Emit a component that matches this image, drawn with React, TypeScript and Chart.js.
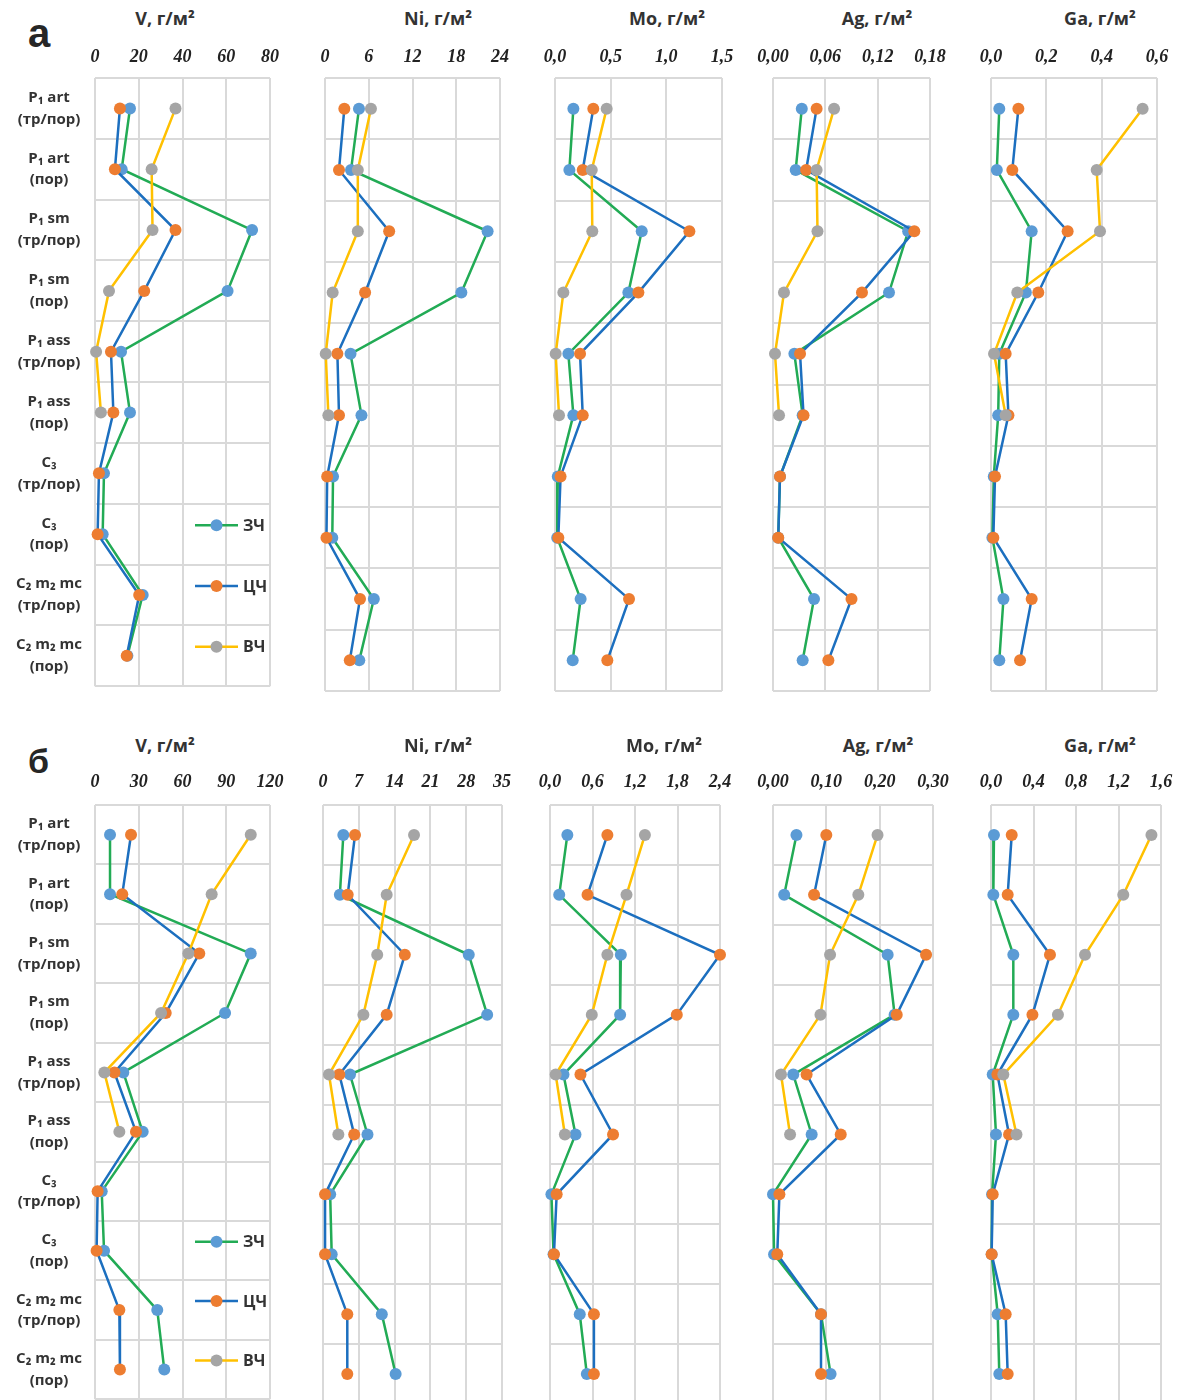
import React, { useEffect, useRef } from "react";
import { Chart, registerables } from "chart.js";

Chart.register(...registerables);

// Stratigraphic layers (category axis, top to bottom)
const LAYERS: string[][] = [
  ["P₁ art", "(тр/пор)"],
  ["P₁ art", "(пор)"],
  ["P₁ sm", "(тр/пор)"],
  ["P₁ sm", "(пор)"],
  ["P₁ ass", "(тр/пор)"],
  ["P₁ ass", "(пор)"],
  ["C₃", "(тр/пор)"],
  ["C₃", "(пор)"],
  ["C₂ m₂ mc", "(тр/пор)"],
  ["C₂ m₂ mc", "(пор)"],
];

// Series: западная, центральная, восточная части
const SERIES = ["ЗЧ", "ЦЧ", "ВЧ"];
const LINE_COLORS = ["#22ab55", "#1c6fbf", "#ffc000"];
const MARKER_COLORS = ["#5b9bd5", "#ed7d31", "#a5a5a5"];

const ELEMENTS = ["V", "Ni", "Mo", "Ag", "Ga"];

// ---- Panel а ----
const V_A_ZCH = [16, 12.2, 71.8, 60.6, 11.9, 16, 4.1, 3.5, 21.8, 14.8];
const V_A_TSCH = [11.4, 9.1, 36.8, 22.5, 7.3, 8.4, 1.8, 1.2, 20.2, 14.5];
const V_A_VCH = [36.8, 25.9, 26.3, 6.4, 0.5, 2.7, null, null, null, null];
const V_A_TICKS = [0, 20, 40, 60, 80];

const NI_A_ZCH = [4.66, 3.57, 22.3, 18.7, 3.5, 5.0, 1.1, 1.0, 6.7, 4.7];
const NI_A_TSCH = [2.65, 1.92, 8.8, 5.5, 1.7, 1.92, 0.3, 0.2, 4.8, 3.4];
const NI_A_VCH = [6.3, 4.5, 4.5, 1.05, 0.1, 0.46, null, null, null, null];
const NI_A_TICKS = [0, 6, 12, 18, 24];

const MO_A_ZCH = [0.165, 0.129, 0.779, 0.659, 0.12, 0.165, 0.025, 0.02, 0.23, 0.159];
const MO_A_TSCH = [0.344, 0.249, 1.207, 0.749, 0.225, 0.249, 0.05, 0.03, 0.665, 0.47];
const MO_A_VCH = [0.464, 0.33, 0.335, 0.075, 0.006, 0.036, null, null, null, null];
const MO_A_TICKS = [0, 0.5, 1.0, 1.5];

const AG_A_ZCH = [0.033, 0.026, 0.155, 0.133, 0.0245, 0.034, 0.008, 0.006, 0.047, 0.034];
const AG_A_TSCH = [0.05, 0.038, 0.162, 0.102, 0.031, 0.035, 0.008, 0.006, 0.09, 0.0635];
const AG_A_VCH = [0.07, 0.05, 0.051, 0.0126, 0.0023, 0.0069, null, null, null, null];
const AG_A_TICKS = [0, 0.06, 0.12, 0.18];

const GA_A_ZCH = [0.03, 0.021, 0.147, 0.126, 0.03, 0.026, 0.01, 0.005, 0.045, 0.03];
const GA_A_TSCH = [0.099, 0.077, 0.277, 0.171, 0.053, 0.063, 0.0145, 0.0085, 0.147, 0.105];
const GA_A_VCH = [0.548, 0.382, 0.394, 0.095, 0.011, 0.053, null, null, null, null];
const GA_A_TICKS = [0, 0.2, 0.4, 0.6];

// ---- Panel б ----
const V_B_ZCH = [10.3, 10.3, 106.8, 89.2, 19.4, 32.7, 4.6, 6.2, 42.7, 47.5];
const V_B_TSCH = [24.7, 18.7, 71.5, 48.5, 13.3, 28.1, 1.8, 1.1, 16.7, 17.1];
const V_B_VCH = [106.8, 80, 64, 45.3, 6.4, 16.7, null, null, null, null];
const V_B_TICKS = [0, 30, 60, 90, 120];

const NI_B_ZCH = [3.97, 3.3, 28.5, 32.1, 5.28, 8.7, 1.4, 1.7, 11.5, 14.2];
const NI_B_TSCH = [6.26, 4.83, 16.0, 12.45, 3.19, 6.1, 0.4, 0.4, 4.75, 4.75];
const NI_B_VCH = [17.8, 12.45, 10.6, 7.9, 1.17, 3.0, null, null, null, null];
const NI_B_TICKS = [0, 7, 14, 21, 28, 35];

const MO_B_ZCH = [0.245, 0.13, 1.0, 0.99, 0.19, 0.36, 0.02, 0.05, 0.42, 0.52];
const MO_B_TSCH = [0.81, 0.53, 2.4, 1.79, 0.43, 0.89, 0.094, 0.056, 0.62, 0.62];
const MO_B_VCH = [1.34, 1.08, 0.81, 0.59, 0.08, 0.21, null, null, null, null];
const MO_B_TICKS = [0, 0.6, 1.2, 1.8, 2.4];

const AG_B_ZCH = [0.044, 0.021, 0.215, 0.228, 0.038, 0.0725, 0.0, 0.002, 0.09, 0.108];
const AG_B_TSCH = [0.1, 0.077, 0.287, 0.232, 0.063, 0.127, 0.012, 0.008, 0.09, 0.09];
const AG_B_VCH = [0.196, 0.16, 0.107, 0.089, 0.015, 0.032, null, null, null, null];
const AG_B_TICKS = [0, 0.1, 0.2, 0.3];

const GA_B_ZCH = [0.028, 0.022, 0.21, 0.21, 0.016, 0.047, 0.01, 0.006, 0.063, 0.078];
const GA_B_TSCH = [0.195, 0.157, 0.555, 0.39, 0.06, 0.17, 0.016, 0.006, 0.138, 0.157];
const GA_B_VCH = [1.51, 1.245, 0.885, 0.63, 0.116, 0.24, null, null, null, null];
const GA_B_TICKS = [0, 0.4, 0.8, 1.2, 1.6];

type Values = (number | null)[];

type ChartSpec = {
  element: string;
  left: number;
  right: number;
  titleX: number;
  ticks: number[];
  decimals: number;
  series: Values[];
};

type Panel = {
  letter: string;
  letterTop: number;
  letterSize: number;
  titleY: number;
  plotTop: number;
  plotBottom: number;
  tickPad: number;
  charts: ChartSpec[];
};

const GRID = "#d9d9d9";
const TEXT = "#333333";
const AXIS_H = 45;
const SIDE = 30;
const BOTTOM = 30;

const PANELS: Panel[] = [
  {
    letter: "а",
    letterTop: 13,
    letterSize: 40,
    titleY: 18,
    plotTop: 78,
    plotBottom: 691,
    tickPad: 10,
    charts: [
      { element: ELEMENTS[0], left: 95, right: 270, titleX: 165, ticks: V_A_TICKS, decimals: 0, series: [V_A_ZCH, V_A_TSCH, V_A_VCH] },
      { element: ELEMENTS[1], left: 325, right: 500, titleX: 438, ticks: NI_A_TICKS, decimals: 0, series: [NI_A_ZCH, NI_A_TSCH, NI_A_VCH] },
      { element: ELEMENTS[2], left: 555, right: 722, titleX: 667, ticks: MO_A_TICKS, decimals: 1, series: [MO_A_ZCH, MO_A_TSCH, MO_A_VCH] },
      { element: ELEMENTS[3], left: 773, right: 930, titleX: 877, ticks: AG_A_TICKS, decimals: 2, series: [AG_A_ZCH, AG_A_TSCH, AG_A_VCH] },
      { element: ELEMENTS[4], left: 991, right: 1157, titleX: 1100, ticks: GA_A_TICKS, decimals: 1, series: [GA_A_ZCH, GA_A_TSCH, GA_A_VCH] },
    ],
  },
  {
    letter: "б",
    letterTop: 744,
    letterSize: 34,
    titleY: 745,
    plotTop: 805,
    plotBottom: 1404,
    tickPad: 12,
    charts: [
      { element: ELEMENTS[0], left: 95, right: 270, titleX: 165, ticks: V_B_TICKS, decimals: 0, series: [V_B_ZCH, V_B_TSCH, V_B_VCH] },
      { element: ELEMENTS[1], left: 323, right: 502, titleX: 438, ticks: NI_B_TICKS, decimals: 0, series: [NI_B_ZCH, NI_B_TSCH, NI_B_VCH] },
      { element: ELEMENTS[2], left: 550, right: 720, titleX: 664, ticks: MO_B_TICKS, decimals: 1, series: [MO_B_ZCH, MO_B_TSCH, MO_B_VCH] },
      { element: ELEMENTS[3], left: 773, right: 933, titleX: 878, ticks: AG_B_TICKS, decimals: 2, series: [AG_B_ZCH, AG_B_TSCH, AG_B_VCH] },
      { element: ELEMENTS[4], left: 991, right: 1161, titleX: 1100, ticks: GA_B_TICKS, decimals: 1, series: [GA_B_ZCH, GA_B_TSCH, GA_B_VCH] },
    ],
  },
];

// Key drawn inside the lower rows of the first plot of each panel
const seriesKey = {
  id: "seriesKey",
  afterDatasetsDraw(chart: any) {
    const { ctx, chartArea, scales } = chart;
    SERIES.forEach((name, i) => {
      const cy = scales.y.getPixelForValue(7 + i) - 9;
      const x0 = chartArea.left + 100;
      ctx.save();
      ctx.strokeStyle = LINE_COLORS[i];
      ctx.lineWidth = 2.5;
      ctx.beginPath();
      ctx.moveTo(x0, cy);
      ctx.lineTo(x0 + 43, cy);
      ctx.stroke();
      ctx.fillStyle = MARKER_COLORS[i];
      ctx.beginPath();
      ctx.arc(x0 + 21.5, cy, 6, 0, Math.PI * 2);
      ctx.fill();
      ctx.fillStyle = TEXT;
      ctx.font = 'bold 16px "Open Sans", "DejaVu Sans", sans-serif';
      ctx.textBaseline = "middle";
      ctx.textAlign = "left";
      ctx.fillText(name, x0 + 48, cy + 1);
      ctx.restore();
    });
  },
};

function SubChart({ spec, panel, first }: { spec: ChartSpec; panel: Panel; first: boolean }) {
  const ref = useRef<HTMLCanvasElement>(null);
  const canvasLeft = first ? 0 : spec.left - SIDE;
  const canvasTop = panel.plotTop - AXIS_H;
  const width = spec.right - canvasLeft + SIDE;
  const height = panel.plotBottom - panel.plotTop + AXIS_H + BOTTOM;

  useEffect(() => {
    if (!ref.current) return;
    const ticks = spec.ticks;
    const chart = new Chart(ref.current, {
      type: "line",
      data: {
        labels: LAYERS as any,
        datasets: SERIES.map((name, i) => ({
          label: name,
          data: spec.series[i] as any,
          borderColor: LINE_COLORS[i],
          backgroundColor: MARKER_COLORS[i],
          pointBackgroundColor: MARKER_COLORS[i],
          pointBorderColor: MARKER_COLORS[i],
          pointBorderWidth: 0,
          pointRadius: 6,
          borderWidth: 2.5,
          tension: 0,
          clip: false as any,
          spanGaps: false,
          order: SERIES.length - i,
        })),
      },
      options: {
        indexAxis: "y",
        responsive: false,
        maintainAspectRatio: false,
        animation: false,
        devicePixelRatio: 1,
        events: [],
        layout: { padding: { left: first ? 0 : SIDE, right: SIDE, top: 0, bottom: BOTTOM } },
        scales: {
          x: {
            type: "linear",
            position: "top",
            min: ticks[0],
            max: ticks[ticks.length - 1],
            afterBuildTicks: (s: any) => {
              s.ticks = ticks.map((v) => ({ value: v }));
            },
            afterFit: (s: any) => {
              s.height = AXIS_H;
            },
            grid: { color: GRID, lineWidth: 2, drawTicks: false },
            border: { display: false },
            ticks: {
              padding: panel.tickPad,
              autoSkip: false,
              maxRotation: 0,
              color: "#222222",
              font: { family: '"Liberation Serif", "Times New Roman", serif', size: 18, weight: "bold", style: "italic" },
              callback: (v: any) => Number(v).toFixed(spec.decimals).replace(".", ","),
            },
          },
          y: {
            type: "category",
            offset: true,
            afterFit: (s: any) => {
              s.width = first ? spec.left : 0;
            },
            grid: { offset: true, color: GRID, lineWidth: 2, drawTicks: false },
            border: { display: false },
            ticks: {
              display: first,
              autoSkip: false,
              crossAlign: "center",
              padding: 13,
              color: TEXT,
              font: { family: '"Open Sans", "DejaVu Sans", sans-serif', size: 15, weight: "bold", lineHeight: 1.45 },
            },
          },
        },
        plugins: {
          legend: { display: false },
          tooltip: { enabled: false },
          title: { display: false },
        },
      } as any,
      plugins: first ? [seriesKey] : [],
    });
    return () => chart.destroy();
  }, [spec, panel, first]);

  return (
    <canvas
      ref={ref}
      width={width}
      height={height}
      style={{ position: "absolute", left: canvasLeft, top: canvasTop, width, height }}
    />
  );
}

export default function App() {
  return (
    <div
      style={{
        position: "absolute",
        left: 0,
        top: 0,
        width: 1189,
        height: 1400,
        overflow: "hidden",
        background: "#ffffff",
      }}
    >
      {PANELS.map((panel) => (
        <React.Fragment key={panel.letter}>
          <div
            style={{
              position: "absolute",
              left: 28,
              top: panel.letterTop,
              fontFamily: '"Liberation Sans", Arial, sans-serif',
              fontWeight: "bold",
              fontSize: panel.letterSize,
              lineHeight: `${panel.letterSize}px`,
              color: "#262626",
            }}
          >
            {panel.letter}
          </div>
          {panel.charts.map((spec, i) => (
            <React.Fragment key={spec.element}>
              <div
                style={{
                  position: "absolute",
                  left: spec.titleX,
                  top: panel.titleY - 12,
                  transform: "translateX(-50%)",
                  whiteSpace: "nowrap",
                  fontFamily: '"Open Sans", "DejaVu Sans", sans-serif',
                  fontWeight: "bold",
                  fontSize: 18,
                  lineHeight: "24px",
                  color: TEXT,
                }}
              >
                {spec.element}, г/м²
              </div>
              <SubChart spec={spec} panel={panel} first={i === 0} />
            </React.Fragment>
          ))}
        </React.Fragment>
      ))}
    </div>
  );
}
